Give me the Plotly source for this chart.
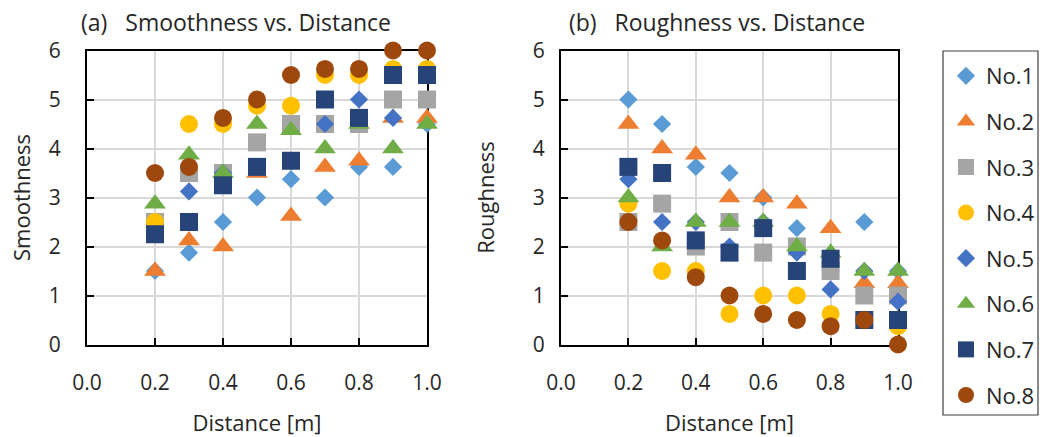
import plotly.graph_objects as go

distance = [0.2, 0.3, 0.4, 0.5, 0.6, 0.7, 0.8, 0.9, 1.0]
series_names = ["No.1", "No.2", "No.3", "No.4", "No.5", "No.6", "No.7", "No.8"]

smooth_no1 = [1.5, 1.875, 2.5, 3.0, 3.375, 3.0, 3.625, 3.625, 4.5]
smooth_no2 = [1.5, 2.125, 2.0, 3.5, 2.625, 3.625, 3.75, 4.625, 4.625]
smooth_no3 = [2.5, 3.5, 3.5, 4.125, 4.5, 4.5, 4.5, 5.0, 5.0]
smooth_no4 = [2.5, 4.5, 4.5, 4.875, 4.875, 5.5, 5.5, 5.625, 5.625]
smooth_no5 = [2.25, 3.125, 3.5, 3.625, 3.75, 4.5, 5.0, 4.625, 5.5]
smooth_no6 = [2.875, 3.875, 3.5, 4.5, 4.375, 4.0, 4.5, 4.0, 4.5]
smooth_no7 = [2.25, 2.5, 3.25, 3.625, 3.75, 5.0, 4.625, 5.5, 5.5]
smooth_no8 = [3.5, 3.625, 4.625, 5.0, 5.5, 5.625, 5.625, 6.0, 6.0]

rough_no1 = [5.0, 4.5, 3.625, 3.5, 3.0, 2.375, 1.5, 2.5, 1.5]
rough_no2 = [4.5, 4.0, 3.875, 3.0, 3.0, 2.875, 2.375, 1.25, 1.25]
rough_no3 = [2.5, 2.875, 2.0, 2.5, 1.875, 2.0, 1.5, 1.0, 1.0]
rough_no4 = [2.875, 1.5, 1.5, 0.625, 1.0, 1.0, 0.625, 0.5, 0.375]
rough_no5 = [3.375, 2.5, 2.5, 2.0, 2.5, 1.875, 1.125, 1.5, 0.875]
rough_no6 = [3.0, 2.0, 2.5, 2.5, 2.5, 2.0, 1.875, 1.5, 1.5]
rough_no7 = [3.625, 3.5, 2.125, 1.875, 2.375, 1.5, 1.75, 0.5, 0.5]
rough_no8 = [2.5, 2.125, 1.375, 1.0, 0.625, 0.5, 0.375, 0.5, 0.0]

smoothness = [smooth_no1, smooth_no2, smooth_no3, smooth_no4,
              smooth_no5, smooth_no6, smooth_no7, smooth_no8]
roughness = [rough_no1, rough_no2, rough_no3, rough_no4,
             rough_no5, rough_no6, rough_no7, rough_no8]

x_ticks = [0.0, 0.2, 0.4, 0.6, 0.8, 1.0]
y_ticks = [0, 1, 2, 3, 4, 5, 6]

colors = ["#5B9BD5", "#ED7D31", "#A5A5A5", "#FFC000",
          "#4472C4", "#70AD47", "#264478", "#9E480E"]
symbols = ["diamond", "triangle-up", "square", "circle",
           "diamond", "triangle-up", "square", "circle"]
sizes = [14, 19, 18, 18, 14, 19, 18, 18]

FONT = "Open Sans"
TXT = "#262626"

fig = go.Figure()
for i, name in enumerate(series_names):
    for data, xa, ya, show in [(smoothness[i], "x", "y", False),
                               (roughness[i], "x2", "y2", True)]:
        fig.add_trace(go.Scatter(
            x=distance, y=data, xaxis=xa, yaxis=ya, mode="markers",
            name=name, legendgroup=name, showlegend=show,
            cliponaxis=False,
            marker=dict(symbol=symbols[i], size=sizes[i], color=colors[i],
                        line=dict(width=0)),
        ))

W, H = 1040, 437
ydom = [1 - 344.5 / H, 1 - 50.5 / H]

axis_common = dict(
    showline=True, linecolor="black", linewidth=2, mirror=True,
    showgrid=True, gridcolor="#d9d9d9", gridwidth=1.5,
    ticks="inside", ticklen=7, tickwidth=2, tickcolor="black",
    zeroline=False, layer="below traces", automargin=False,
    tickfont=dict(family=FONT, size=21, color=TXT),
)

xaxis_common = dict(axis_common, range=[0, 1], tickvals=x_ticks,
                    ticktext=[f"{v:.1f}" for v in x_ticks],
                    ticklabelstandoff=18,
                    title=dict(text="Distance [m]", standoff=31,
                               font=dict(family=FONT, size=22, color=TXT)))
yaxis_common = dict(axis_common, range=[0, 6], tickvals=y_ticks)

fig.update_layout(
    width=W, height=H,
    margin=dict(l=0, r=0, t=0, b=0),
    paper_bgcolor="white", plot_bgcolor="white",
    font=dict(family=FONT, color=TXT),
    xaxis=dict(xaxis_common, domain=[87 / W, 427 / W], anchor="y"),
    yaxis=dict(yaxis_common, domain=ydom, anchor="x", ticklabelstandoff=20,
               title=dict(text="Smoothness", standoff=12,
                          font=dict(family=FONT, size=22, color=TXT))),
    xaxis2=dict(xaxis_common, domain=[561 / W, 898 / W], anchor="y2"),
    yaxis2=dict(yaxis_common, domain=ydom, anchor="x2", ticklabelstandoff=10,
                title=dict(text="Roughness", standoff=32,
                           font=dict(family=FONT, size=22, color=TXT))),
    legend=dict(
        x=946 / W, xanchor="left", y=1 - 55 / H, yanchor="top",
        borderwidth=0, bgcolor="rgba(0,0,0,0)",
        font=dict(family=FONT, size=22, color=TXT),
        tracegroupgap=14, itemsizing="trace",
    ),
    showlegend=True,
    shapes=[dict(type="rect", xref="paper", yref="paper",
                 x0=943 / W, x1=1038 / W, y0=1 - 415 / H, y1=1 - 51 / H,
                 line=dict(color="#404040", width=1.2), layer="below")],
    annotations=[
        dict(text="(a)\u00a0\u00a0\u00a0Smoothness vs. Distance",
             xref="paper", yref="paper", x=79 / W, y=1 - 22 / H,
             xanchor="left", yanchor="middle", showarrow=False,
             font=dict(family=FONT, size=23, color=TXT)),
        dict(text="(b)\u00a0\u00a0\u00a0Roughness vs. Distance",
             xref="paper", yref="paper", x=567 / W, y=1 - 22 / H,
             xanchor="left", yanchor="middle", showarrow=False,
             font=dict(family=FONT, size=23, color=TXT)),
    ],
)

fig.write_html(
    "out.html",
    config={"displayModeBar": False},
    post_script="document.body.style.margin='0';document.body.style.overflow='hidden';",
)
